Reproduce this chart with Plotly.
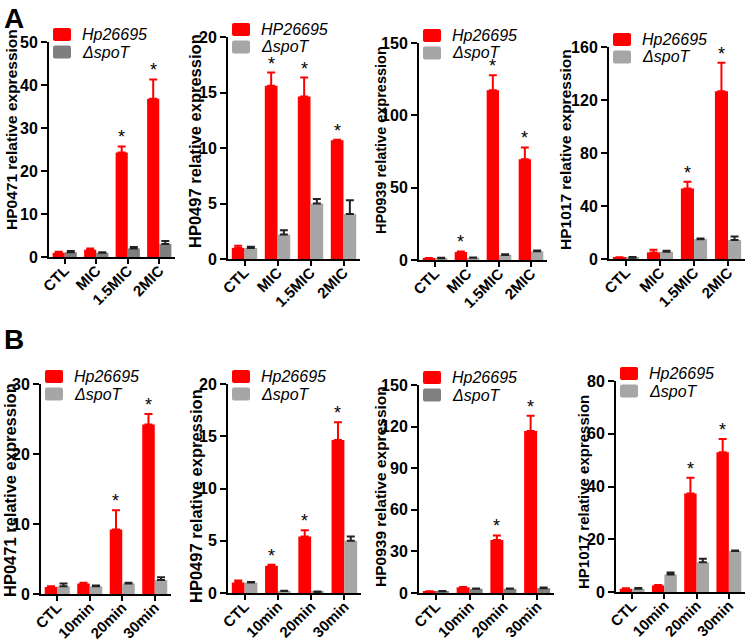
import plotly.graph_objects as go

W, H = 750, 642

# ---------------- data ----------------
categories_a = ["CTL", "MIC", "1.5MIC", "2MIC"]
categories_b = ["CTL", "10min", "20min", "30min"]
genes = ["HP0471", "HP0497", "HP0939", "HP1017"]

# Panel A (MIC treatment)
a_hp0471_wt = [1.0, 1.7, 24.3, 36.8]
a_hp0471_wt_err = [0.2, 0.3, 1.4, 4.5]
a_hp0471_sp = [1.1, 1.0, 2.0, 3.0]
a_hp0471_sp_err = [0.3, 0.1, 0.3, 0.7]
a_hp0471_sig = [0, 0, 1, 1]

a_hp0497_wt = [1.0, 15.6, 14.65, 10.7]
a_hp0497_wt_err = [0.2, 1.2, 1.7, 0.05]
a_hp0497_sp = [1.0, 2.2, 5.0, 4.05]
a_hp0497_sp_err = [0.1, 0.4, 0.4, 1.25]
a_hp0497_sig = [0, 1, 1, 1]

a_hp0939_wt = [1.0, 5.5, 117.3, 69.7]
a_hp0939_wt_err = [0.3, 0.4, 10.4, 8.1]
a_hp0939_sp = [1.2, 1.5, 3.5, 6.0]
a_hp0939_sp_err = [0.4, 0.3, 0.5, 0.6]
a_hp0939_sig = [0, 1, 1, 1]

a_hp1017_wt = [1.0, 5.0, 53.3, 126.6]
a_hp1017_wt_err = [0.3, 2.0, 5.0, 21.6]
a_hp1017_sp = [1.0, 5.5, 15.0, 14.3]
a_hp1017_sp_err = [0.5, 0.8, 0.5, 2.7]
a_hp1017_sig = [0, 0, 1, 1]

# Panel B (time course)
b_hp0471_wt = [1.0, 1.5, 9.2, 24.2]
b_hp0471_wt_err = [0.1, 0.1, 2.75, 1.5]
b_hp0471_sp = [1.1, 1.1, 1.5, 2.0]
b_hp0471_sp_err = [0.4, 0.1, 0.1, 0.4]
b_hp0471_sig = [0, 0, 1, 1]

b_hp0497_wt = [1.0, 2.6, 5.4, 14.65]
b_hp0497_wt_err = [0.2, 0.1, 0.6, 1.7]
b_hp0497_sp = [1.0, 0.2, 0.1, 5.0]
b_hp0497_sp_err = [0.05, 0.02, 0.05, 0.4]
b_hp0497_sig = [0, 1, 1, 1]

b_hp0939_wt = [1.0, 4.1, 38.2, 116.9]
b_hp0939_wt_err = [0.2, 0.2, 3.3, 11.0]
b_hp0939_sp = [1.3, 3.0, 3.0, 3.5]
b_hp0939_sp_err = [0.2, 0.2, 0.2, 0.4]
b_hp0939_sig = [0, 0, 1, 1]

b_hp1017_wt = [1.2, 2.5, 37.3, 53.0]
b_hp1017_wt_err = [0.2, 0.2, 6.0, 5.0]
b_hp1017_sp = [1.2, 6.6, 11.3, 15.5]
b_hp1017_sp_err = [0.3, 0.8, 1.3, 0.2]
b_hp1017_sig = [0, 0, 1, 1]

wt_names = ["Hp26695", "HP26695", "Hp26695", "Hp26695",
            "Hp26695", "Hp26695", "Hp26695", "Hp26695"]
mut_name = "ΔspoT"

y_ticks = [
    [0, 10, 20, 30, 40, 50],
    [0, 5, 10, 15, 20],
    [0, 50, 100, 150],
    [0, 40, 80, 120, 160],
    [0, 10, 20, 30],
    [0, 5, 10, 15, 20],
    [0, 30, 60, 90, 120, 150],
    [0, 20, 40, 60, 80],
]

panel_data = [
    (categories_a, a_hp0471_wt, a_hp0471_wt_err, a_hp0471_sp, a_hp0471_sp_err, a_hp0471_sig, genes[0]),
    (categories_a, a_hp0497_wt, a_hp0497_wt_err, a_hp0497_sp, a_hp0497_sp_err, a_hp0497_sig, genes[1]),
    (categories_a, a_hp0939_wt, a_hp0939_wt_err, a_hp0939_sp, a_hp0939_sp_err, a_hp0939_sig, genes[2]),
    (categories_a, a_hp1017_wt, a_hp1017_wt_err, a_hp1017_sp, a_hp1017_sp_err, a_hp1017_sig, genes[3]),
    (categories_b, b_hp0471_wt, b_hp0471_wt_err, b_hp0471_sp, b_hp0471_sp_err, b_hp0471_sig, genes[0]),
    (categories_b, b_hp0497_wt, b_hp0497_wt_err, b_hp0497_sp, b_hp0497_sp_err, b_hp0497_sig, genes[1]),
    (categories_b, b_hp0939_wt, b_hp0939_wt_err, b_hp0939_sp, b_hp0939_sp_err, b_hp0939_sig, genes[2]),
    (categories_b, b_hp1017_wt, b_hp1017_wt_err, b_hp1017_sp, b_hp1017_sp_err, b_hp1017_sig, genes[3]),
]

# ---------------- styles / layout ----------------
RED = "#ff0000"
grays = ["#7f7f7f", "#a6a6a6", "#a6a6a6", "#a6a6a6",
         "#a6a6a6", "#a6a6a6", "#808080", "#a6a6a6"]
FONT = "Arial, Liberation Sans, sans-serif"

# plot boxes in pixels: left, right, top, bottom
boxes = [
    (49, 175, 42, 257),
    (228, 360, 37, 259),
    (419, 547, 43, 260),
    (609, 745, 47, 259),
    (41, 171, 384, 594),
    (228, 361, 384, 593),
    (419, 554, 385, 593),
    (616, 745, 381, 592),
]
# y-title centre (px) and size
titles_pos = [
    (11, 130, 15.5), (195, 141, 16.5), (381, 140, 14.5), (565, 150, 15.5),
    (10, 490, 16.5), (196, 496, 16.5), (380, 487, 15.5), (583, 492, 15),
]

BARGAP = 0.23


def px(x):
    return x / W


def py(y):
    return 1 - y / H


def rounded_rect(x0, y0, x1, y1, r):
    """SVG path (paper coordinates) of a rectangle with rounded corners, given in pixels."""
    pts = [
        f"M{px(x0 + r)},{py(y0)}",
        f"L{px(x1 - r)},{py(y0)}",
        f"Q{px(x1)},{py(y0)} {px(x1)},{py(y0 + r)}",
        f"L{px(x1)},{py(y1 - r)}",
        f"Q{px(x1)},{py(y1)} {px(x1 - r)},{py(y1)}",
        f"L{px(x0 + r)},{py(y1)}",
        f"Q{px(x0)},{py(y1)} {px(x0)},{py(y1 - r)}",
        f"L{px(x0)},{py(y0 + r)}",
        f"Q{px(x0)},{py(y0)} {px(x0 + r)},{py(y0)}",
        "Z",
    ]
    return " ".join(pts)


fig = go.Figure()
shapes = []
annotations = []

for i, (cats, wt, wte, sp, spe, sig, gene) in enumerate(panel_data):
    n = i + 1
    xa = "x" if n == 1 else f"x{n}"
    ya = "y" if n == 1 else f"y{n}"
    left, right, top, bottom = boxes[i]
    gray = grays[i]

    fig.add_trace(go.Bar(
        x=cats, y=wt, xaxis=xa, yaxis=ya, name=wt_names[i],
        marker=dict(color=RED, line=dict(width=0)), showlegend=False,
        error_y=dict(type="data", array=wte, arrayminus=[0] * len(wte),
                     symmetric=False, color=RED, thickness=2, width=4),
        offsetgroup="wt",
    ))
    fig.add_trace(go.Bar(
        x=cats, y=sp, xaxis=xa, yaxis=ya, name=mut_name,
        marker=dict(color=gray, line=dict(width=0)), showlegend=False,
        error_y=dict(type="data", array=spe, arrayminus=[0] * len(spe),
                     symmetric=False, color="#222222", thickness=2, width=4),
        offsetgroup="sp",
    ))

    yt = y_ticks[i]
    axis_common = dict(showline=True, linecolor="black", linewidth=2,
                       ticks="outside", tickcolor="black", tickwidth=2,
                       showgrid=False, zeroline=False, automargin=False)
    fig.layout[f"xaxis{'' if n == 1 else n}"] = dict(
        domain=[px(left), px(right)], anchor=ya, tickangle=-45, ticklen=5,
        range=[-0.5, 3.5], type="category", ticklabelstandoff=-8,
        tickfont=dict(family=FONT, size=15, color="black", weight="bold"),
        **axis_common)
    fig.layout[f"yaxis{'' if n == 1 else n}"] = dict(
        domain=[py(bottom), py(top)], anchor=xa, range=[0, yt[-1]],
        tickvals=yt, ticklen=6,
        tickfont=dict(family=FONT, size=16, color="black", weight="bold"),
        **axis_common)

    # y title
    tx, ty, ts = titles_pos[i]
    annotations.append(dict(
        x=px(tx), y=py(ty), xref="paper", yref="paper", showarrow=False,
        text=f"{gene} relative expression", textangle=-90,
        font=dict(family=FONT, size=ts, color="black", weight="bold"),
        xanchor="center", yanchor="middle"))

    # significance asterisks above the red bars
    bar_w = (right - left) / len(cats) * (1 - BARGAP) / 2
    for j, s in enumerate(sig):
        if s:
            annotations.append(dict(
                x=cats[j], y=wt[j] + wte[j], xref=xa, yref=ya, showarrow=False,
                text="*", xshift=-bar_w / 2, yshift=-3, yanchor="bottom",
                font=dict(family=FONT, size=18, color="black")))

    # legend (drawn per panel)
    lx0 = left + 4
    ly0 = top - 14
    for k, (col, label) in enumerate([(RED, f"<i>{wt_names[i]}</i>"),
                                      (gray, f"<i>{mut_name}</i>")]):
        y0 = ly0 + k * 17.5
        shapes.append(dict(type="path", xref="paper", yref="paper",
                           path=rounded_rect(lx0, y0, lx0 + 18, y0 + 13, 2),
                           fillcolor=col, line=dict(width=0), layer="above"))
        annotations.append(dict(
            x=px(lx0 + 27), y=py(y0 + 6.5), xref="paper", yref="paper",
            showarrow=False, text=label, xanchor="left", yanchor="middle",
            font=dict(family=FONT, size=16, color="black")))

# panel letters
annotations.append(dict(x=px(2), y=py(1), xref="paper", yref="paper", text="<b>A</b>",
                        showarrow=False, xanchor="left", yanchor="top",
                        font=dict(family=FONT, size=28, color="black")))
annotations.append(dict(x=px(2), y=py(322), xref="paper", yref="paper", text="<b>B</b>",
                        showarrow=False, xanchor="left", yanchor="top",
                        font=dict(family=FONT, size=28, color="black")))

fig.update_layout(
    width=W, height=H, margin=dict(l=0, r=0, t=0, b=0),
    paper_bgcolor="white", plot_bgcolor="white",
    barmode="group", bargap=BARGAP, bargroupgap=0,
    showlegend=False, shapes=shapes, annotations=annotations,
    font=dict(family=FONT, color="black"),
)

# remove the browser's default 8px page margin so the figure fills the window
fig.write_html("out.html",
               config={"displayModeBar": False},
               post_script="document.body.style.margin='0';document.body.style.overflow='hidden';")
